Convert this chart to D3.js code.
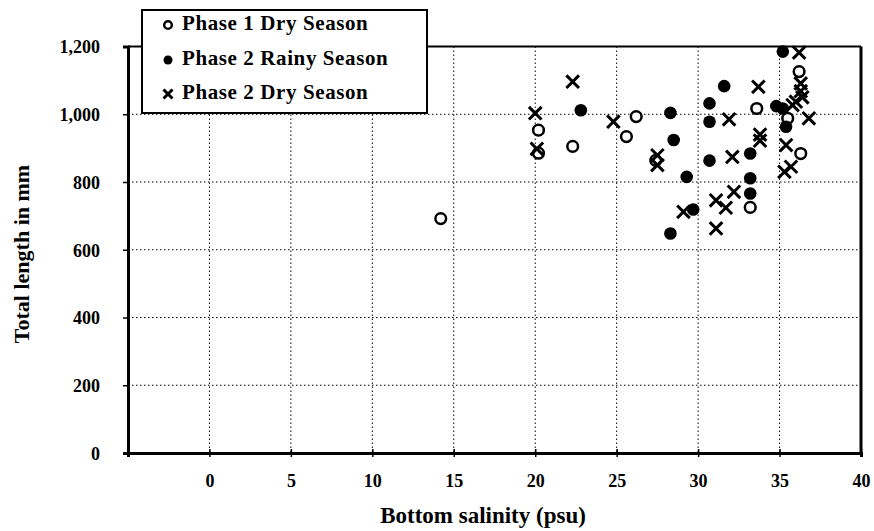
<!DOCTYPE html>
<html>
<head>
<meta charset="utf-8">
<script src="https://cdn.jsdelivr.net/npm/d3@7"></script>
<style>
  html, body { margin: 0; padding: 0; background: #fff; }
  svg { display: block; }
  text { font-family: "Liberation Serif", "Times New Roman", serif; font-weight: bold; fill: #000; }
</style>
</head>
<body>
<svg id="chart" width="874" height="531"></svg>
<script>
// ---- data ----
const seriesNames = ["Phase 1 Dry Season", "Phase 2 Rainy Season", "Phase 2 Dry Season"];

const p1DrySalinity = [14.2, 20.2, 20.2, 22.3, 25.6, 26.2, 27.4, 33.2, 33.6, 35.5, 36.2, 36.3];
const p1DryLength   = [692, 953, 885, 905, 934, 993, 864, 725, 1017, 988, 1126, 884];

const p2RainySalinity = [22.8, 28.3, 28.5, 28.3, 29.3, 29.7, 30.7, 30.7, 30.7, 31.6, 33.2, 33.2, 33.2, 34.8, 35.2, 35.2, 35.4];
const p2RainyLength   = [1012, 1004, 924, 648, 815, 719, 1032, 978, 863, 1083, 884, 811, 766, 1024, 1185, 1017, 963];

const p2DrySalinity = [20.0, 20.1, 22.3, 24.8, 27.5, 27.5, 29.1, 31.1, 31.1, 31.7, 32.2, 31.9, 32.1, 33.7, 33.8, 33.8, 35.4, 35.3, 35.7, 36.2, 36.3, 36.3, 36.4, 36.0, 35.8, 36.8];
const p2DryLength   = [1003, 898, 1096, 978, 879, 850, 712, 746, 663, 724, 771, 985, 874, 1081, 940, 922, 909, 830, 845, 1182, 1091, 1068, 1050, 1037, 1027, 988];

const xTickValues = [0, 5, 10, 15, 20, 25, 30, 35, 40];
const yTickValues = [0, 200, 400, 600, 800, 1000, 1200];
const xDomain = [-5, 40];
const yDomain = [0, 1200];
const xTitle = "Bottom salinity (psu)";
const yTitle = "Total length in mm";

// ---- layout ----
const svg = d3.select("#chart");
const L = 128, R = 861, T = 46.5, B = 453;

const x = d3.scaleLinear().domain(xDomain).range([L, R]);
const y = d3.scaleLinear().domain(yDomain).range([B, T]);

// gridlines
const grid = svg.append("g").attr("stroke", "#000").attr("stroke-width", 1).attr("stroke-dasharray", "1.5,2.5");
grid.selectAll("line.v").data(xTickValues.filter(v => v > xDomain[0] && v < xDomain[1]))
  .join("line").attr("class", "v")
  .attr("x1", d => x(d)).attr("x2", d => x(d)).attr("y1", T).attr("y2", B);
grid.selectAll("line.h").data(yTickValues.filter(v => v > yDomain[0] && v < yDomain[1]))
  .join("line").attr("class", "h")
  .attr("x1", L).attr("x2", R).attr("y1", d => y(d)).attr("y2", d => y(d));

// frame
svg.append("line").attr("x1", L).attr("x2", R).attr("y1", T).attr("y2", T).attr("stroke", "#000").attr("stroke-width", 2);
svg.append("line").attr("x1", R).attr("x2", R).attr("y1", T).attr("y2", B).attr("stroke", "#000").attr("stroke-width", 3);

// y axis
const yAxis = d3.axisLeft(y).tickValues(yTickValues).tickSize(5).tickPadding(4).tickFormat(d3.format(","));
const gy = svg.append("g").attr("transform", `translate(${L},0)`).call(yAxis);
gy.select(".domain").attr("stroke-width", 3);
gy.selectAll(".tick line").attr("stroke-width", 1.5);
gy.selectAll(".tick text").style("font-size", "18px").attr("dy", "0.35em").attr("x", -28);

// x axis
const xAxis = d3.axisBottom(x).tickValues([xDomain[0]].concat(xTickValues)).tickSize(4).tickPadding(17)
  .tickFormat(d => xTickValues.includes(d) && d !== xDomain[0] ? d : "");
const gx = svg.append("g").attr("transform", `translate(0,${B})`).call(xAxis);
gx.select(".domain").attr("stroke-width", 3);
gx.selectAll(".tick line").attr("y1", -4).attr("stroke-width", 1.5);
gx.selectAll(".tick text").style("font-size", "18px");

// axis titles
svg.append("text").attr("x", 483).attr("y", 523).attr("text-anchor", "middle").style("font-size", "23px").text(xTitle);
svg.append("text").attr("transform", "translate(29,254) rotate(-90)").attr("text-anchor", "middle").style("font-size", "22px").text(yTitle);

// markers
function drawMarker(g, type, cx, cy, s) {
  if (type === 0) {
    g.append("circle").attr("cx", cx).attr("cy", cy).attr("r", s * 0.85).attr("fill", "#fff").attr("stroke", "#000").attr("stroke-width", 2.5);
  } else if (type === 1) {
    g.append("circle").attr("cx", cx).attr("cy", cy).attr("r", s).attr("fill", "#000");
  } else {
    g.append("path").attr("d", `M${cx - s},${cy - s}L${cx + s},${cy + s}M${cx - s},${cy + s}L${cx + s},${cy - s}`)
      .attr("stroke", "#000").attr("stroke-width", 3).attr("fill", "none");
  }
}
const series = [
  { xs: p1DrySalinity, ys: p1DryLength },
  { xs: p2RainySalinity, ys: p2RainyLength },
  { xs: p2DrySalinity, ys: p2DryLength }
];
const pts = svg.append("g");
series.forEach((s, i) => {
  s.xs.forEach((v, j) => drawMarker(pts, i, x(v), y(s.ys[j]), 6.3));
});

// legend
const lg = svg.append("g");
lg.append("rect").attr("x", 142).attr("y", 10).attr("width", 285).attr("height", 103)
  .attr("fill", "#fff").attr("stroke", "#000").attr("stroke-width", 2);
const rowY = [23, 58, 92];
seriesNames.forEach((name, i) => {
  drawMarker(lg, i, 168, rowY[i] + 2, 4.5);
  lg.append("text").attr("x", 182).attr("y", rowY[i]).attr("dy", "0.35em").style("font-size", "21px").style("letter-spacing", "0.6px").text(name);
});
</script>
</body>
</html>
